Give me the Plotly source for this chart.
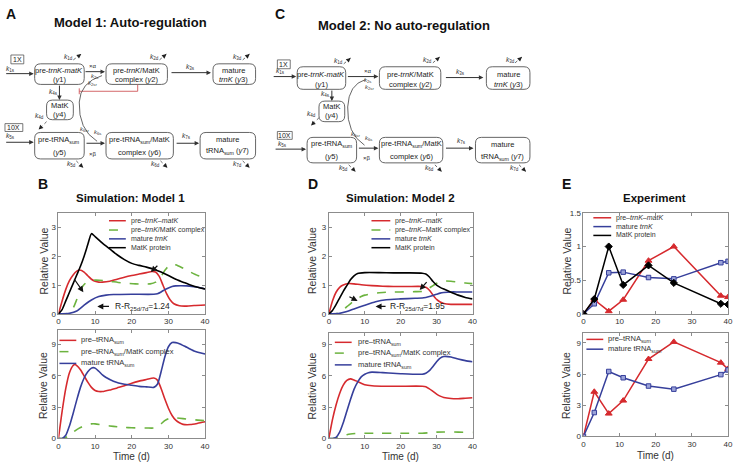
import plotly.graph_objects as go

W, H = 739, 465
FONT = "Liberation Sans, Arial, sans-serif"
RED = "#d62a2e"
GREEN = "#6cb33f"
BLUE = "#363f9b"
BLACK = "#000000"
AXC = "#8c8c8c"

# ---------------- data ----------------
# B top: Simulation Model 1 (trnK)
b1_red_t = [0, 1, 2, 3, 4, 5, 5.8, 7, 8, 9, 10, 11, 12, 14, 16, 18, 20, 22, 24, 25.5, 26.5, 27.5, 28.5, 29.5, 30.5, 31.5, 33, 35, 37, 40]
b1_red_v = [0, 0.45, 0.85, 1.15, 1.35, 1.48, 1.52, 1.45, 1.32, 1.2, 1.13, 1.1, 1.1, 1.13, 1.2, 1.27, 1.33, 1.38, 1.43, 1.47, 1.45, 1.3, 1.0, 0.7, 0.48, 0.35, 0.28, 0.27, 0.29, 0.31]
b1_green_t = [0, 2, 3, 4, 5, 6, 7, 8, 10, 13, 17, 21, 25, 26.5, 28, 29, 30, 31, 32, 34, 36, 38, 40]
b1_green_v = [0, 0, 0.05, 0.2, 0.5, 0.82, 1.02, 1.12, 1.17, 1.15, 1.08, 1.04, 1.04, 1.1, 1.3, 1.5, 1.65, 1.72, 1.7, 1.58, 1.45, 1.33, 1.26]
b1_blue_t = [0, 3, 5, 7, 9, 11, 13, 15, 20, 26, 27, 28, 29, 30, 31, 32, 35, 38, 40]
b1_blue_v = [0, 0.02, 0.1, 0.3, 0.48, 0.6, 0.65, 0.67, 0.68, 0.68, 0.7, 0.76, 0.84, 0.9, 0.95, 0.97, 0.97, 0.92, 0.86]
b1_black_t = [0, 1, 2, 3, 4, 5, 6, 7, 8, 9, 10, 12, 14, 16, 18, 20, 22, 24, 26, 28, 30, 32, 34, 36, 38, 40]
b1_black_v = [0, 0.15, 0.45, 0.75, 1.05, 1.35, 1.65, 2.0, 2.4, 2.78, 2.68, 2.45, 2.25, 2.05, 1.88, 1.75, 1.68, 1.62, 1.55, 1.45, 1.33, 1.2, 1.1, 1.0, 0.92, 0.86]

# B bottom: Simulation Model 1 (tRNA)
b2_red_t = [0, 1, 2, 3, 4, 4.5, 5, 6, 7, 8, 9, 10, 11, 12, 14, 16, 18, 20, 22, 24, 26, 27, 28, 29, 30, 31, 32, 33, 34, 36, 38, 40]
b2_red_v = [0, 2.6, 4.8, 6.3, 7.0, 7.1, 7.0, 6.6, 6.0, 5.4, 4.9, 4.6, 4.5, 4.5, 4.65, 4.85, 5.05, 5.3, 5.5, 5.65, 5.8, 5.6, 4.8, 3.8, 2.9, 2.2, 1.75, 1.5, 1.35, 1.33, 1.45, 1.6]
b2_blue_t = [0, 1, 2, 3, 4, 5, 6, 7, 8, 9, 9.5, 10, 11, 12, 13, 15, 18, 20, 22, 24, 26, 27, 28, 29, 30, 31, 32, 33, 35, 37, 40]
b2_blue_v = [0, 0, 0.3, 1.2, 2.4, 3.7, 4.9, 5.8, 6.4, 6.75, 6.8, 6.75, 6.45, 6.1, 5.85, 5.5, 5.2, 5.1, 5.0, 4.95, 4.9, 5.2, 6.4, 7.8, 8.8, 9.2, 9.2, 9.1, 8.75, 8.4, 8.1]
b2_green_t = [0, 1, 2, 3, 4, 5, 6, 7, 8, 9, 10, 12, 14, 16, 18, 20, 22, 24, 26, 27, 28, 29, 30, 31, 32, 34, 36, 38, 40]
b2_green_v = [0, 0, 0.1, 0.3, 0.6, 0.85, 1.05, 1.22, 1.33, 1.4, 1.4, 1.3, 1.2, 1.12, 1.06, 1.02, 1.0, 1.0, 1.0, 1.1, 1.4, 1.7, 1.9, 1.97, 1.97, 1.9, 1.83, 1.76, 1.7]

# D top: Simulation Model 2 (trnK)
d1_red_t = [0, 1, 2, 3, 4, 5.5, 7, 9, 12, 15, 18, 22, 26, 27, 28, 29, 30, 31, 32, 34, 36, 40]
d1_red_v = [0, 0.45, 0.75, 0.92, 1.0, 1.05, 1.04, 1.01, 0.98, 0.96, 0.95, 0.95, 0.95, 0.92, 0.82, 0.65, 0.5, 0.41, 0.36, 0.33, 0.33, 0.33]
d1_green_t = [0, 2, 3, 4, 5, 6, 7, 8, 9, 10, 12, 14, 16, 20, 24, 26, 27, 28, 29, 30, 31, 32, 34, 36, 38, 40]
d1_green_v = [0, 0, 0.05, 0.13, 0.25, 0.35, 0.45, 0.53, 0.6, 0.65, 0.7, 0.73, 0.75, 0.76, 0.77, 0.78, 0.82, 0.9, 0.98, 1.06, 1.11, 1.14, 1.13, 1.1, 1.07, 1.05]
d1_blue_t = [0, 3, 5, 7, 10, 13, 16, 20, 24, 26, 27, 28, 29, 30, 31, 32, 34, 36, 38, 40]
d1_blue_v = [0, 0.02, 0.08, 0.17, 0.3, 0.42, 0.49, 0.52, 0.54, 0.55, 0.57, 0.6, 0.64, 0.68, 0.72, 0.74, 0.76, 0.76, 0.76, 0.76]
d1_black_t = [0, 1, 2, 3, 4, 5, 6, 7, 8, 10, 14, 18, 22, 26, 27, 28, 29, 30, 31, 32, 34, 36, 38, 40]
d1_black_v = [0, 0.12, 0.32, 0.55, 0.78, 0.98, 1.18, 1.32, 1.4, 1.43, 1.43, 1.42, 1.42, 1.41, 1.38, 1.28, 1.12, 1.0, 0.92, 0.86, 0.75, 0.65, 0.57, 0.52]

# D bottom: Simulation Model 2 (tRNA)
d2_red_t = [0, 1, 2, 3, 4, 5, 6, 7, 8, 10, 12, 16, 20, 26, 27, 28, 29, 30, 31, 32, 34, 36, 38, 40]
d2_red_v = [0, 1.8, 3.2, 4.3, 5.1, 5.55, 5.7, 5.6, 5.45, 5.15, 5.05, 5.0, 5.0, 5.0, 4.95, 4.75, 4.5, 4.25, 4.05, 3.92, 3.82, 3.8, 3.85, 3.9]
d2_blue_t = [0, 1, 2, 3, 4, 5, 6, 7, 8, 9, 10, 11, 12, 15, 20, 26, 27, 28, 29, 30, 31, 32, 34, 36, 38, 40]
d2_blue_v = [0, 0, 0.1, 0.6, 1.5, 2.6, 3.7, 4.7, 5.4, 5.9, 6.15, 6.3, 6.35, 6.3, 6.2, 6.15, 6.25, 6.5, 6.9, 7.35, 7.7, 7.85, 7.8, 7.6, 7.45, 7.35]
d2_green_t = [0, 1, 2, 3, 4, 5, 6, 8, 10, 14, 20, 26, 28, 30, 32, 34, 36, 40]
d2_green_v = [0, 0, 0.05, 0.15, 0.25, 0.35, 0.42, 0.5, 0.5, 0.5, 0.5, 0.5, 0.55, 0.6, 0.62, 0.62, 0.6, 0.58]

# E: Experiment
e_t = [0, 3, 7, 11, 18, 25, 38, 40]
e1_red = [0, 0.21, 0.04, 0.21, 0.79, 1.0, 0.27, 0.25]
e1_blue = [0, 0.15, 0.61, 0.62, 0.54, 0.52, 0.76, 0.78]
e1_black = [0, 0.22, 1.0, 0.43, 0.72, 0.46, 0.15, 0.14]
e2_red = [0, 4.3, 2.2, 3.45, 7.45, 9.1, 7.1, 6.5]
e2_blue = [0, 2.3, 6.25, 5.65, 4.85, 4.55, 5.95, 6.4]

x_ticks = [0, 10, 20, 30, 40]
y_ticks_trnk = [0, 1, 2, 3]
y_ticks_trna = [0, 3, 6, 9]
y_ticks_exp = [0, 0.5, 1, 1.5]
y_ticklabels_exp = ["0", "0.5", "1", "1.5"]

# ---------------- helpers ----------------
def PX(x):
    return x / W


def PY(y):
    return 1 - y / H


shapes = []
anns = []


def txt(x, y, s, size=7.5, bold=False, color="#222", xa="center", ya="middle", angle=0):
    if bold:
        s = f"<b>{s}</b>"
    anns.append(dict(x=PX(x), y=PY(y), xref="paper", yref="paper", text=s, showarrow=False,
                     font=dict(family=FONT, size=size, color=color), xanchor=xa, yanchor=ya,
                     textangle=angle))


def line(x0, y0, x1, y1, color="#333", width=1, dash="solid"):
    shapes.append(dict(type="line", xref="paper", yref="paper", x0=PX(x0), y0=PY(y0), x1=PX(x1), y1=PY(y1),
                       line=dict(color=color, width=width, dash=dash)))


def arrow(x0, y0, x1, y1, color="#333", width=1, size=0.9, head=2):
    anns.append(dict(x=PX(x1), y=PY(y1), xref="paper", yref="paper", ax=x0 - x1, ay=y0 - y1,
                     text="", showarrow=True, arrowhead=head, arrowsize=size, arrowwidth=width,
                     arrowcolor=color, standoff=0, startstandoff=0))


def darrow(x0, y0, x1, y1):
    line(x0, y0, x1, y1, color="#444", width=0.8, dash="dot")
    arrow(x1 - (x1 - x0) * 0.45, y1 - (y1 - y0) * 0.45, x1, y1, color="#222", size=0.9)


def rbox(x0, y0, x1, y1, r=6, color="#555"):
    p = (f"M {PX(x0 + r)},{PY(y0)} L {PX(x1 - r)},{PY(y0)} Q {PX(x1)},{PY(y0)} {PX(x1)},{PY(y0 + r)} "
         f"L {PX(x1)},{PY(y1 - r)} Q {PX(x1)},{PY(y1)} {PX(x1 - r)},{PY(y1)} "
         f"L {PX(x0 + r)},{PY(y1)} Q {PX(x0)},{PY(y1)} {PX(x0)},{PY(y1 - r)} "
         f"L {PX(x0)},{PY(y0 + r)} Q {PX(x0)},{PY(y0)} {PX(x0 + r)},{PY(y0)} Z")
    shapes.append(dict(type="path", xref="paper", yref="paper", path=p, line=dict(color=color, width=0.9)))


def rect(x0, y0, x1, y1, color="#555"):
    shapes.append(dict(type="rect", xref="paper", yref="paper", x0=PX(x0), y0=PY(y1), x1=PX(x1), y1=PY(y0),
                       line=dict(color=color, width=0.8)))


def curve(points, color="#555", width=0.9):
    (xa, ya), rest = points[0], points[1:]
    p = f"M {PX(xa)},{PY(ya)}"
    for i in range(0, len(rest), 2):
        (cx, cy), (ex, ey) = rest[i], rest[i + 1]
        p += f" Q {PX(cx)},{PY(cy)} {PX(ex)},{PY(ey)}"
    shapes.append(dict(type="path", xref="paper", yref="paper", path=p, line=dict(color=color, width=width)))


def k(x, y, sub, size=6.5):
    txt(x, y, f"<i>k</i><sub>{sub}</sub>", size=size, color="#333")


# ---------------- diagram A ----------------
txt(9, 10, "A", size=14, bold=True, color="#111")
txt(130, 19, "Model 1: Auto-regulation", size=13, bold=True, color="#111")
rect(9, 52, 22, 61)
txt(15.5, 56.5, "1X", size=7)
arrow(3, 71, 32, 71)
k(9, 66, "1s")
rbox(33, 61, 83, 82)
txt(58, 68, "pre-<i>trnK</i>-<i>matK</i>")
txt(58, 77, "(<i>y</i>1)")
k(67, 54, "1d")
darrow(72, 57, 80, 51)
arrow(83, 69, 104, 69)
txt(92, 63, "×α", size=6)
k(93, 74, "2s", 6)
k(91, 81, "2sr", 6)
rbox(105, 61, 167, 82)
txt(136, 68, "pre-<i>trnK</i>/MatK")
txt(136, 77, "complex (<i>y</i>2)")
k(154, 54, "2d")
darrow(159, 57, 166, 51)
arrow(170, 70, 211, 70)
k(190, 64, "3s")
rbox(213, 61, 256, 82)
txt(234, 68, "mature")
txt(234, 77, "<i>trnK</i> (<i>y</i>3)")
k(238, 54, "3d")
darrow(243, 57, 250, 51)
# inhibition
shapes.append(dict(type="path", xref="paper", yref="paper",
                   path=f"M {PX(137)},{PY(82)} L {PX(137)},{PY(89)} L {PX(78)},{PY(89)}",
                   line=dict(color="#d0575a", width=0.9)))
line(78, 86, 78, 92, color="#d0575a", width=0.9)
arrow(58, 82, 58, 98)
k(52, 90, "4s")
rbox(45, 98, 72, 118)
txt(58.5, 104, "MatK")
txt(58.5, 113, "(<i>y</i>4)")
k(38, 114, "4d")
darrow(45, 120, 37, 128)
curve([(101, 73), (79, 80), (78, 100), (77, 128), (96, 140)])
rect(3, 122, 21, 130)
txt(12, 126, "10X", size=7)
arrow(3, 141, 32, 141)
k(9, 135, "5s")
rbox(33, 131, 83, 158)
txt(58, 139, "pre-tRNA<sub>sum</sub>")
txt(58, 151, "(<i>y</i>5)")
arrow(84, 142, 104, 142)
k(83, 128, "6sr", 6)
k(96, 131, "6s", 6)
txt(92, 153, "×β", size=6)
rbox(105, 131, 173, 158)
txt(139, 139, "pre-tRNA<sub>sum</sub>/MatK")
txt(139, 151, "complex (<i>y</i>6)")
arrow(175, 142, 199, 142)
k(186, 135, "7s")
rbox(200, 131, 256, 158)
txt(228, 138, "mature")
txt(228, 150, "tRNA<sub>sum</sub> (<i>y</i>7)")
k(70, 163, "5d")
darrow(75, 160, 82, 167)
k(155, 163, "6d")
darrow(160, 160, 167, 167)
k(238, 163, "7d")
darrow(243, 160, 250, 167)

# ---------------- diagram C ----------------
txt(281, 10, "C", size=14, bold=True, color="#111")
txt(406, 22, "Model 2: No auto-regulation", size=13, bold=True, color="#111")
rect(278, 57, 291, 66)
txt(284.5, 61.5, "1X", size=7)
arrow(273, 74, 297, 74)
k(281, 68, "1s")
rbox(298, 64, 347, 87)
txt(322.5, 72, "pre-<i>trnK</i>-<i>matK</i>")
txt(322.5, 82, "(<i>y</i>1)")
k(340, 58, "1d")
darrow(345, 61, 352, 55)
arrow(348, 74, 380, 74)
txt(370, 68, "×α", size=6)
k(369, 78, "2s", 6)
k(371, 85, "2sr", 6)
rbox(381, 64, 443, 87)
txt(412, 72, "pre-<i>trnK</i>/MatK")
txt(412, 82, "complex (<i>y</i>2)")
k(430, 57, "2d")
darrow(435, 60, 442, 54)
arrow(447, 75, 486, 75)
k(463, 69, "3s")
rbox(489, 64, 533, 87)
txt(511, 72, "mature")
txt(511, 82, "<i>trnK</i> (<i>y</i>3)")
k(513, 57, "3d")
darrow(518, 60, 525, 54)
arrow(333, 87, 333, 99)
k(327, 92, "4s")
rbox(320, 99, 346, 120)
txt(333, 105, "MatK")
txt(333, 114, "(<i>y</i>4)")
k(312, 112, "4d")
darrow(320, 116, 312, 124)
curve([(367, 77), (350, 82), (349, 105), (348, 132), (366, 144)])
rect(278, 130, 293, 138)
txt(285.5, 134, "10X", size=7)
arrow(275, 148, 307, 148)
k(283, 143, "5s")
rbox(308, 136, 358, 162)
txt(333, 143, "pre-tRNA<sub>sum</sub>")
txt(333, 156, "(<i>y</i>5)")
arrow(359, 147, 380, 147)
k(357, 133, "6sr", 6)
k(370, 137, "6s", 6)
txt(368, 157, "×β", size=6)
rbox(381, 136, 445, 162)
txt(413, 143, "pre-tRNA<sub>sum</sub>/MatK")
txt(413, 156, "complex (<i>y</i>6)")
arrow(447, 147, 476, 147)
k(464, 140, "7s")
rbox(478, 136, 533, 162)
txt(505, 143, "mature")
txt(505, 156, "tRNA<sub>sum</sub> (<i>y</i>7)")
k(345, 167, "5d")
darrow(350, 164, 357, 171)
k(432, 167, "6d")
darrow(437, 164, 444, 171)
k(517, 167, "7d")
darrow(522, 164, 529, 171)

# ---------------- plots ----------------
fig = go.Figure()


def add_line(t, v, color, dash, xa, ya, width=1.6):
    fig.add_trace(go.Scatter(x=t, y=v, mode="lines", line=dict(color=color, width=width, dash=dash, shape="spline", smoothing=0.6),
                             xaxis=xa, yaxis=ya, hoverinfo="skip"))


add_line(b1_red_t, b1_red_v, RED, "solid", "x", "y")
add_line(b1_green_t, b1_green_v, GREEN, "dash", "x", "y")
add_line(b1_blue_t, b1_blue_v, BLUE, "solid", "x", "y")
add_line(b1_black_t, b1_black_v, BLACK, "solid", "x", "y")

add_line(b2_red_t, b2_red_v, RED, "solid", "x2", "y2")
add_line(b2_green_t, b2_green_v, GREEN, "dash", "x2", "y2")
add_line(b2_blue_t, b2_blue_v, BLUE, "solid", "x2", "y2")

add_line(d1_red_t, d1_red_v, RED, "solid", "x3", "y3")
add_line(d1_green_t, d1_green_v, GREEN, "dash", "x3", "y3")
add_line(d1_blue_t, d1_blue_v, BLUE, "solid", "x3", "y3")
add_line(d1_black_t, d1_black_v, BLACK, "solid", "x3", "y3")

add_line(d2_red_t, d2_red_v, RED, "solid", "x4", "y4")
add_line(d2_green_t, d2_green_v, GREEN, "dash", "x4", "y4")
add_line(d2_blue_t, d2_blue_v, BLUE, "solid", "x4", "y4")


def add_exp(v, color, symbol, xa, ya, fill, size=6):
    fig.add_trace(go.Scatter(x=e_t, y=v, mode="lines+markers", line=dict(color=color, width=1.5),
                             marker=dict(symbol=symbol, size=size, color=fill, line=dict(color=color, width=1)),
                             xaxis=xa, yaxis=ya, hoverinfo="skip"))


add_exp(e1_red, RED, "triangle-up", "x5", "y5", RED)
add_exp(e1_blue, BLUE, "square", "x5", "y5", "#9aa2d8", 4.5)
add_exp(e1_black, BLACK, "diamond", "x5", "y5", BLACK, 5.5)
add_exp(e2_red, RED, "triangle-up", "x6", "y6", RED)
add_exp(e2_blue, BLUE, "square", "x6", "y6", "#9aa2d8", 4.5)


def xax(x0, x1, anchor):
    return dict(domain=[PX(x0), PX(x1)], range=[0, 40], tickvals=x_ticks, anchor=anchor,
                showline=True, linecolor=AXC, linewidth=1, mirror="ticks", ticks="inside", ticklen=3,
                tickcolor=AXC, showgrid=False, zeroline=False, tickfont=dict(family=FONT, size=8, color="#333"))


def yax(y_top, y_bot, rng, tv, anchor, tt=None):
    d = dict(domain=[PY(y_bot), PY(y_top)], range=rng, tickvals=tv, anchor=anchor,
             showline=True, linecolor=AXC, linewidth=1, mirror="ticks", ticks="inside", ticklen=3,
             tickcolor=AXC, showgrid=False, zeroline=False, tickfont=dict(family=FONT, size=8, color="#333"))
    if tt:
        d["ticktext"] = tt
    return d


layout_axes = dict(
    xaxis=xax(57, 205, "y"), yaxis=yax(213, 316, [0, 3.5], y_ticks_trnk, "x"),
    xaxis2=xax(57, 205, "y2"), yaxis2=yax(332, 443, [0, 10.45], y_ticks_trna, "x2"),
    xaxis3=xax(330, 475, "y3"), yaxis3=yax(213, 316, [0, 3.5], y_ticks_trnk, "x3"),
    xaxis4=xax(330, 475, "y4"), yaxis4=yax(336, 443, [0, 10.05], y_ticks_trna, "x4"),
    xaxis5=xax(587, 733, "y5"), yaxis5=yax(213, 316, [0, 1.5], y_ticks_exp, "x5", y_ticklabels_exp),
    xaxis6=xax(587, 733, "y6"), yaxis6=yax(335, 441, [0, 10], y_ticks_trna, "x6"),
)

# panel letters, titles, axis titles
txt(41, 184, "B", size=14, bold=True, color="#111")
txt(130, 198, "Simulation: Model 1", size=11.5, bold=True, color="#111")
txt(314, 184, "D", size=14, bold=True, color="#111")
txt(402, 198, "Simulation: Model 2", size=11.5, bold=True, color="#111")
txt(570, 184, "E", size=14, bold=True, color="#111")
txt(659, 198, "Experiment", size=11.5, bold=True, color="#111")
for xx in (42, 313, 570):
    txt(xx, 262, "Relative Value", size=10.5, angle=-90, color="#333")
txt(42, 389, "Relative Value", size=10.5, angle=-90, color="#333")
txt(313, 390, "Relative Value", size=10.5, angle=-90, color="#333")
txt(570, 389, "Relative Value", size=10.5, angle=-90, color="#333")
txt(131, 461, "Time (d)", size=10, color="#333")
txt(402, 461, "Time (d)", size=10, color="#333")
txt(660, 460, "Time (d)", size=10, color="#333")


def legend(x0, x1, xt, ys, items, size=7):
    for y, (label, color, dash) in zip(ys, items):
        line(x0, y, x1, y, color=color, width=1.5, dash=dash)
        txt(xt, y, label, size=size, xa="left", color="#333")


legend(108, 125, 128, [221, 230.5, 239.5, 248.5], [
    ("pre–<i>trnK</i>–<i>matK</i>", RED, "solid"),
    ("pre–<i>trnK</i>/MatK complex", GREEN, "dash"),
    ("mature <i>trnK</i>", BLUE, "solid"),
    ("MatK protein", BLACK, "solid")])
legend(373, 392, 395, [221, 230.5, 239.5, 248.5], [
    ("pre–<i>trnK</i>–<i>matK</i>", RED, "solid"),
    ("pre–<i>trnK</i>–MatK complex", GREEN, "dash"),
    ("mature <i>trnK</i>", BLUE, "solid"),
    ("MatK protein", BLACK, "solid")])
legend(58, 75, 78, [343, 354.5, 366.5], [
    ("pre–tRNA<sub>sum</sub>", RED, "solid"),
    ("pre–tRNA<sub>sum</sub>/MatK complex", GREEN, "dash"),
    ("mature tRNA<sub>sum</sub>", BLUE, "solid")], size=7.5)
legend(336, 353, 357, [345, 356, 368], [
    ("pre–tRNA<sub>sum</sub>", RED, "solid"),
    ("pre–tRNA<sub>sum</sub>/MatK complex", GREEN, "dash"),
    ("mature tRNA<sub>sum</sub>", BLUE, "solid")], size=7.5)
legend(597, 615, 618, [218, 227, 236], [
    ("pre–<i>trnK</i>–<i>matK</i>", RED, "solid"),
    ("mature <i>trnK</i>", BLUE, "solid"),
    ("MatK protein", BLACK, "solid")])
legend(590, 607, 610, [342, 352], [
    ("pre–tRNA<sub>sum</sub>", RED, "solid"),
    ("mature tRNA<sub>sum</sub>", BLUE, "solid")], size=7.5)


def data_arrow(xa, ya, t0, v0, t1, v1):
    anns.append(dict(x=t1, y=v1, ax=t0, ay=v0, xref=xa, yref=ya, axref=xa, ayref=ya, text="",
                     showarrow=True, arrowhead=2, arrowsize=1, arrowwidth=1.2, arrowcolor="#111",
                     standoff=0, startstandoff=0))


def data_text(xa, ya, t, v, s):
    anns.append(dict(x=t, y=v, xref=xa, yref=ya, text=s, showarrow=False, xanchor="left", yanchor="middle",
                     font=dict(family=FONT, size=8.5, color="#222")))


data_arrow("x", "y", 4.0, 1.26, 6.8, 0.75)
data_arrow("x", "y", 27.4, 1.72, 25.2, 1.45)
data_arrow("x", "y", 14.2, 0.26, 10.6, 0.26)
data_text("x", "y", 14.8, 0.27, "R-R<sub>25d/7d</sub>=1.24")
data_arrow("x3", "y3", 5.3, 0.62, 8.0, 0.45)
data_arrow("x3", "y3", 27.6, 1.15, 25.3, 0.83)
data_arrow("x3", "y3", 16.2, 0.26, 13.0, 0.26)
data_text("x3", "y3", 16.6, 0.27, "R-R<sub>25d/7d</sub>=1.95")

fig.update_layout(
    width=W, height=H, margin=dict(l=0, r=0, t=0, b=0),
    paper_bgcolor="white", plot_bgcolor="white", showlegend=False,
    font=dict(family=FONT), shapes=shapes, annotations=anns, **layout_axes)

fig.write_html("out.html", config={"displayModeBar": False},
               post_script="document.body.style.margin='0px';")
